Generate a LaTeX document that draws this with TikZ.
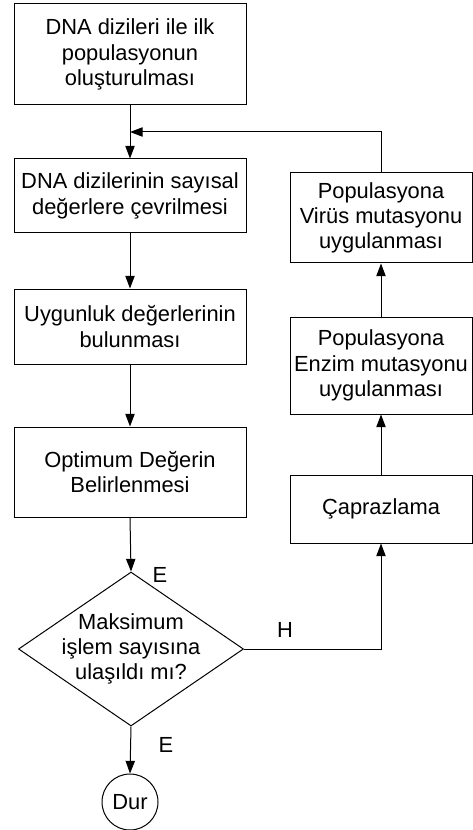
\documentclass[tikz,border=0pt]{standalone}
\usepackage{fontspec}
\setmainfont{Liberation Sans}
\usetikzlibrary{arrows.meta, positioning, shapes.geometric}

\begin{document}
\begin{tikzpicture}[
    x=0.75pt, y=-0.75pt,
    >={Triangle[length=9.5pt, width=7pt]},
    line width=0.75pt,
    every node/.style={font=\fontsize{16.4}{19}\selectfont},
    stepbox/.style={rectangle, draw, align=center, inner sep=0pt, minimum width=174pt},
    sidebox/.style={rectangle, draw, align=center, inner sep=0pt, minimum width=136.5pt},
    decision/.style={diamond, draw, inner sep=0pt, minimum width=168.75pt, minimum height=115.5pt},
    stop/.style={circle, draw, inner sep=0pt, minimum size=42pt}
]

    \useasboundingbox (0,0) rectangle (473,830);

    % Nodes ------------------------------------------------------

    \node[stepbox, minimum height=75.75pt] (init) at (130,54.5) {DNA dizileri ile ilk\\populasyonun\\oluşturulması};
    \node[stepbox, minimum height=55.5pt] (conv) at (130,196) {DNA dizilerinin sayısal\\değerlere çevrilmesi};
    \node[stepbox, minimum height=56.25pt] (fit) at (130,326.5) {Uygunluk değerlerinin\\bulunması};
    \node[stepbox, minimum height=67.5pt] (opt) at (130,472) {Optimum Değerin\\Belirlenmesi};
    \node[decision] (check) at (131,649) {};
    \node[align=center] (checktext) at (check) {Maksimum\\işlem sayısına\\ulaşıldı mı?};
    \node[stop] (dur) at (130,802) {Dur};

    \node[sidebox, minimum height=67.5pt] (virus) at (381,218) {Populasyona\\Virüs mutasyonu\\uygulanması};
    \node[sidebox, minimum height=72.75pt] (enzim) at (381,365.5) {Populasyona\\Enzim mutasyonu\\uygulanması};
    \node[sidebox, minimum height=51pt] (cross) at (381,509) {Çaprazlama};

    \coordinate (merge) at (130,132);

    % Labels
    \node (yes1) at (160,575) {E};
    \node (no) at (285,630) {H};
    \node (yes2) at (166,745) {E};

    % Arrows ---------------------------------------------------

    % Main column
    \draw [->] (init.south) -- (conv.north);
    \draw [->] (conv.south) -- (fit.north);
    \draw [->] (fit.south) -- (opt.north);
    \draw [->] (opt.south) -- (check.north);
    \draw [->] (check.south) -- (dur.north);

    % Loop back
    \draw [->] (check.east) -| (cross.south);
    \draw [->] (cross.north) -- (enzim.south);
    \draw [->] (enzim.north) -- (virus.south);
    \draw [->] (virus.north) |- (merge);

\end{tikzpicture}
\end{document}
